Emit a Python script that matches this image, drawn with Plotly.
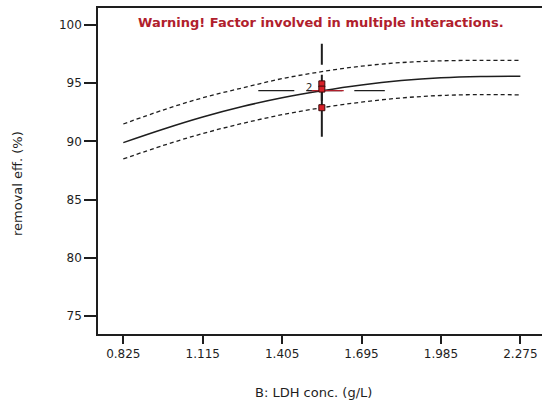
import plotly.graph_objects as go

# One-factor effect of LDH concentration on removal efficiency
ldh_conc = [0.825, 0.97, 1.115, 1.26, 1.405, 1.55, 1.695, 1.84, 1.985, 2.13, 2.275]
predicted = [89.9, 91.05, 92.1, 93.0, 93.75, 94.36, 94.86, 95.23, 95.47, 95.58, 95.6]
upper_ci = [91.5, 92.7, 93.75, 94.6, 95.4, 96.0, 96.47, 96.78, 96.93, 96.97, 96.97]
lower_ci = [88.5, 89.65, 90.68, 91.55, 92.3, 92.9, 93.38, 93.74, 93.95, 94.03, 94.0]

# Design points at the centre level
design_x = [1.55, 1.55, 1.55]
design_y = [94.95, 94.5, 92.9]
replicate_label = "2"

# Current factor setting (crosshair)
center_x = 1.55
center_y = 94.36
cross_x_span = [1.318, 1.78]
cross_y_span = [90.4, 98.4]

x_ticks = [0.825, 1.115, 1.405, 1.695, 1.985, 2.275]
x_tick_text = ["0.825", "1.115", "1.405", "1.695", "1.985", "2.275"]
y_ticks = [75, 80, 85, 90, 95, 100]

INK = "#1e1e1e"
RED = "#b0202c"
FONT = "DejaVu Sans"

fig = go.Figure()

# confidence band edges
for band in (upper_ci, lower_ci):
    fig.add_trace(go.Scatter(x=ldh_conc, y=band, mode="lines", line_shape="spline",
                             line=dict(color=INK, width=1.3, dash="4px,3px"),
                             hoverinfo="skip", showlegend=False))

# predicted response
fig.add_trace(go.Scatter(x=ldh_conc, y=predicted, mode="lines", line_shape="spline",
                         line=dict(color=INK, width=1.5), showlegend=False))

# crosshair
fig.add_trace(go.Scatter(x=cross_x_span, y=[center_y, center_y], mode="lines",
                         line=dict(color=INK, width=1.3, dash="36px,12px"),
                         showlegend=False))
fig.add_trace(go.Scatter(x=[center_x, center_x], y=cross_y_span, mode="lines",
                         line=dict(color=INK, width=2, dash="26px,10px"),
                         showlegend=False))
fig.add_trace(go.Scatter(x=[center_x, center_x], y=[min(design_y), max(design_y)], mode="lines",
                         line=dict(color=INK, width=2), showlegend=False))
fig.add_trace(go.Scatter(x=[1.50, 1.63], y=[center_y, center_y], mode="lines",
                         line=dict(color=RED, width=1.3), showlegend=False))

# design points
fig.add_trace(go.Scatter(x=design_x, y=design_y, mode="markers",
                         marker=dict(symbol="square", size=6, color="#d82028",
                                     line=dict(color="#3a0a0a", width=1)),
                         showlegend=False))

fig.add_annotation(x=1.502, y=94.6, text=replicate_label, showarrow=False,
                   font=dict(family=FONT, size=10, color=INK))

W, H = 542, 410
L, R, T, B = 98, 0, 8, 76
pw, ph = W - L - R, H - T - B


def px_to_paper(px, py):
    return (px - L) / pw, 1 - (py - T) / ph


# warning
wx, wy = px_to_paper(321, 23)
fig.add_annotation(xref="paper", yref="paper", x=wx, y=wy, yanchor="middle", xanchor="center",
                   text="<b>Warning! Factor involved in multiple interactions.</b>",
                   showarrow=False, font=dict(family=FONT, size=13, color=RED))

# axis titles
tx, ty = px_to_paper(313, 392)
fig.add_annotation(xref="paper", yref="paper", x=tx, y=ty, yanchor="middle", xanchor="center",
                   text="B: LDH conc. (g/L)", showarrow=False,
                   font=dict(family=FONT, size=13, color=INK))
sx, sy = px_to_paper(17, 184)
fig.add_annotation(xref="paper", yref="paper", x=sx, y=sy, yanchor="middle", xanchor="center",
                   text="removal eff. (%)", textangle=-90, showarrow=False,
                   font=dict(family=FONT, size=13, color=INK))

fig.update_layout(
    width=W, height=H,
    margin=dict(l=L, r=R, t=T, b=B),
    plot_bgcolor="white", paper_bgcolor="white",
    font=dict(family=FONT, size=12, color=INK),
    xaxis=dict(range=[0.7326, 2.354], tickvals=x_ticks, ticktext=x_tick_text,
               showgrid=False, zeroline=False, showline=True, linecolor=INK, linewidth=1.5,
               mirror=True, ticks="outside", ticklen=8, tickwidth=1.5, tickcolor=INK),
    yaxis=dict(range=[73.45, 101.47], tickvals=y_ticks,
               showgrid=False, zeroline=False, showline=True, linecolor=INK, linewidth=1.5,
               mirror=False, ticks="outside", ticklen=12, tickwidth=1.5, tickcolor=INK),
)

fig.write_html("out.html")
